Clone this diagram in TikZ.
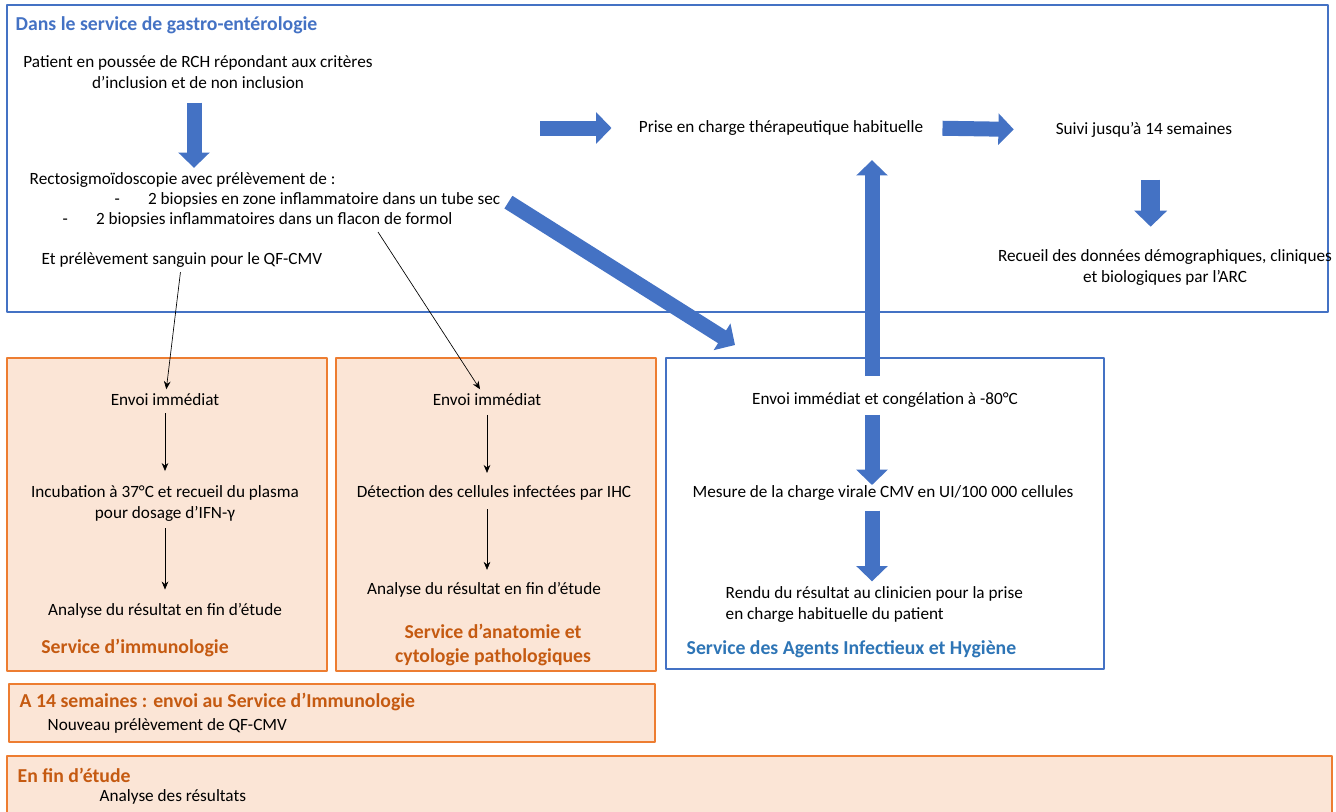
\documentclass[tikz,border=0pt]{standalone}
\usepackage{fontspec}
\setmainfont{Carlito}
\usetikzlibrary{arrows.meta}
\definecolor{bleu}{HTML}{4472C4}
\definecolor{bleutexte}{HTML}{2E75B6}
\definecolor{orangebord}{HTML}{ED7D31}
\definecolor{orangefond}{HTML}{FBE5D6}
\definecolor{orangetexte}{HTML}{C55A11}
\begin{document}
\begin{tikzpicture}[x=0.75pt, y=-0.75pt, line join=round, font=\fontsize{12.9}{15.75}\selectfont, >={Stealth[length=6pt, width=5pt]},
		cadrebleu/.style={draw=bleu, line width=0.9pt},
		cadreorange/.style={draw=orangebord, fill=orangefond, line width=0.9pt},
		titreorange/.style={font=\fontsize{14.8}{17.5}\selectfont\bfseries, text=orangetexte},
		titrebleu/.style={font=\fontsize{14.8}{17.5}\selectfont\bfseries, text=bleutexte},
		gros/.style={draw=bleu, line width=11.25pt, -{Triangle[length=11.5pt, width=23pt]}},
		fin/.style={->, line width=0.5pt}]
				\useasboundingbox (0,0) rectangle (1336,811);
				% cadres
				\draw[cadrebleu] (7,5) rectangle (1328,312);
				\draw[cadreorange] (7,358) rectangle (327,671);
				\draw[cadreorange] (336,358) rectangle (656,671);
				\draw[cadrebleu, fill=white] (666,358) rectangle (1104,669);
				\draw[cadreorange] (9,684) rectangle (655,742);
				\draw[cadreorange] (7,756) rectangle (1332,816);
				% service de gastro-enterologie
				\node[anchor=west, font=\fontsize{14.8}{17.5}\selectfont\bfseries, text=bleu] (gastro) at (11,25) {Dans le service de gastro-entérologie};
				\node[align=center] (patient) at (198,72) {Patient en poussée de RCH répondant aux critères\\d’inclusion et de non inclusion};
				\node[anchor=west] (recto) at (25,180) {Rectosigmoïdoscopie avec prélèvement de :};
				\node[anchor=west] (biop1) at (110,200) {\makebox[25pt][l]{-}2 biopsies en zone inflammatoire dans un tube sec};
				\node[anchor=west] (biop2) at (58,220) {\makebox[25pt][l]{-}2 biopsies inflammatoires dans un flacon de formol};
				\node[anchor=west] (sang) at (37,260) {Et prélèvement sanguin pour le QF-CMV};
				\node (prise) at (781,128) {Prise en charge thérapeutique habituelle};
				\node (suivi) at (1144,130) {Suivi jusqu’à 14 semaines};
				\node[align=center] (recueil) at (1165,268) {Recueil des données démographiques, cliniques\\et biologiques par l’ARC};
				% service d'immunologie
				\node (envoiA) at (165,400) {Envoi immédiat};
				\node[align=center] (incub) at (165,503) {Incubation à 37°C et recueil du plasma\\pour dosage d’IFN-γ};
				\node (analyseA) at (165,611) {Analyse du résultat en fin d’étude};
				\node[titreorange] (immuno) at (135,648) {Service d’immunologie};
				% service d'anatomie et cytologie
				\node (envoiB) at (487,400) {Envoi immédiat};
				\node (detect) at (494,493) {Détection des cellules infectées par IHC};
				\node (analyseB) at (484,590) {Analyse du résultat en fin d’étude};
				\node[titreorange, align=center] (anapath) at (493,645) {Service d’anatomie et\\cytologie pathologiques};
				% service des agents infectieux
				\node (envoiC) at (885,400) {Envoi immédiat et congélation à -80°C};
				\node (mesure) at (883,493) {Mesure de la charge virale CMV en UI/100 000 cellules};
				\node[anchor=west, align=left] (rendu) at (721,604) {Rendu du résultat au clinicien pour la prise\\en charge habituelle du patient};
				\node[titrebleu, anchor=west] (saih) at (682,649) {Service des Agents Infectieux et Hygiène};
				% encadres du bas
				\node[titreorange, anchor=west] (semaines) at (15,702) {A 14 semaines : envoi au Service d’Immunologie};
				\node[anchor=west] (nouveau) at (43,726) {Nouveau prélèvement de QF-CMV};
				\node[titreorange, anchor=west] (finetude) at (13,775) {En fin d’étude};
				\node[anchor=west] (resultats) at (95,797) {Analyse des résultats};
				% fleches
				\coordinate (axeC) at (872,0);
				\coordinate (departP) at (540,128);
				\coordinate (departB) at (378,232);
				\coordinate (versC) at (735,345);
				\draw[gros] ([xshift=-3pt]patient.south) ++(0,-7pt) -- ([xshift=-3pt]patient.south |- recto.north);
				\draw[gros, shorten >=17pt] (departP) -- (prise.west);
				\draw[gros, shorten <=11pt, shorten >=28pt] (prise.east) -- (suivi.west);
				\draw[gros, line width=14pt, -{Triangle[length=12pt, width=24pt]}, shorten <=28pt, shorten >=14pt] ([xshift=5pt]suivi.south) -- ([xshift=5pt]suivi.south |- recueil.north);
				\draw[gros, shorten <=3pt] (biop1.east) -- (versC);
				\draw[gros, shorten <=9pt, shorten >=15pt] (envoiC.north -| axeC) -- (prise.south -| axeC);
				\draw[gros, shorten <=2pt, shorten >=6pt] (envoiC.south -| axeC) -- (mesure.center -| axeC);
				\draw[gros, shorten <=4pt] (mesure.south -| axeC) -- (rendu.north -| axeC);
				\draw[fin] (sang) -- (envoiA);
				\draw[fin] (departB) -- (envoiB);
				\draw[fin, shorten <=2pt, shorten >=7pt] (envoiA) -- (incub);
				\draw[fin, shorten <=2pt, shorten >=7pt] (incub) -- (analyseA);
				\draw[fin, shorten <=3pt, shorten >=6pt] (envoiB.south) -- (envoiB.south |- detect.north);
				\draw[fin, shorten <=3pt, shorten >=6pt] (detect.south -| envoiB) -- (envoiB |- analyseB.north);
			\end{tikzpicture}
\end{document}
